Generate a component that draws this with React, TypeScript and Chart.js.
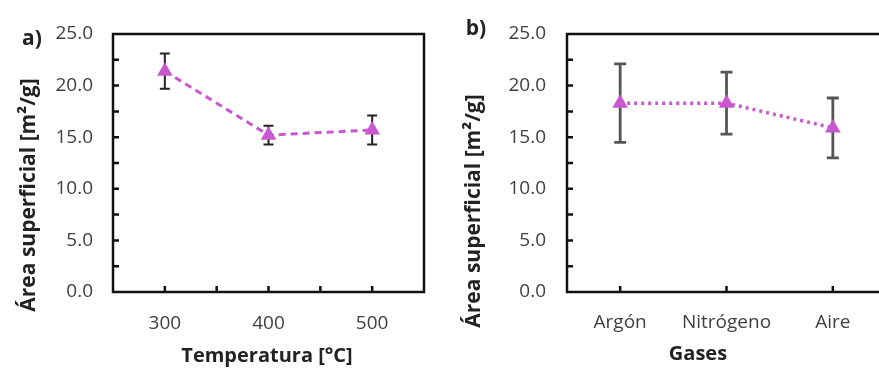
import React, { useEffect, useRef } from "react";
import { Chart, registerables } from "chart.js";

Chart.register(...registerables);

// Panel a data
const tempValues = [300, 400, 500];
const tempArea = [21.4, 15.2, 15.7];
const tempErr = [1.7, 0.9, 1.4];
const tempTickLabels = [300, 400, 500];

// Panel b data
const gasLabels = ["Argón", "Nitrógeno", "Aire"];
const gasArea = [18.3, 18.3, 15.9];
const gasErr = [3.8, 3.0, 2.9];

const yTickLabels = [0, 5, 10, 15, 20, 25];

const FONT = "'Open Sans', Lato, sans-serif";
const MAGENTA = "#C957D0";

const framePlugin = {
  id: "frame",
  beforeDatasetsDraw(chart: any, _args: any, opts: any) {
    const ctx = chart.ctx;
    const meta = chart.getDatasetMeta(0);
    const y = chart.scales.y;
    const vals = chart.data.datasets[0].data as any[];
    ctx.save();
    ctx.strokeStyle = opts.barColor;
    ctx.lineWidth = opts.barWidth;
    meta.data.forEach((pt: any, i: number) => {
      const v = typeof vals[i] === "object" ? vals[i].y : vals[i];
      const e = opts.errors[i];
      const yt = y.getPixelForValue(v + e);
      const yb = y.getPixelForValue(v - e);
      ctx.beginPath();
      ctx.moveTo(pt.x, yt);
      ctx.lineTo(pt.x, yb);
      ctx.moveTo(pt.x - opts.cap, yt);
      ctx.lineTo(pt.x + opts.cap, yt);
      ctx.moveTo(pt.x - opts.cap, yb);
      ctx.lineTo(pt.x + opts.cap, yb);
      ctx.stroke();
    });
    ctx.restore();
  },
  afterDraw(chart: any, _args: any, opts: any) {
    const ctx = chart.ctx;
    const a = chart.chartArea;
    const x = chart.scales.x;
    const y = chart.scales.y;
    ctx.save();
    ctx.strokeStyle = "#111";
    ctx.lineWidth = 2.5;
    ctx.strokeRect(a.left, a.top, a.right - a.left, a.bottom - a.top);
    ctx.beginPath();
    for (let v = 2.5; v < 25; v += 2.5) {
      const py = y.getPixelForValue(v);
      ctx.moveTo(a.left, py);
      ctx.lineTo(a.left + 6, py);
    }
    opts.xTicks.forEach((t: number) => {
      const px = x.getPixelForValue(t);
      ctx.moveTo(px, a.bottom);
      ctx.lineTo(px, a.bottom - 6);
    });
    ctx.stroke();
    ctx.restore();
  },
};

function yScale(width: number, pad: number) {
  return {
    min: 0,
    max: 25,
    afterFit: (s: any) => {
      s.width = width;
    },
    afterBuildTicks: (s: any) => {
      s.ticks = yTickLabels.map((v) => ({ value: v }));
    },
    grid: { display: false, drawTicks: false },
    border: { display: false },
    ticks: {
      padding: pad,
      color: "#404040",
      font: { family: FONT, size: 19 },
      callback: (v: any) => Number(v).toFixed(1),
    },
  };
}

function PanelA() {
  const ref = useRef<HTMLCanvasElement>(null);
  useEffect(() => {
    const chart = new Chart(ref.current!, {
      type: "line",
      data: {
        datasets: [
          {
            data: tempValues.map((t, i) => ({ x: t, y: tempArea[i] })),
            borderColor: MAGENTA,
            backgroundColor: MAGENTA,
            borderWidth: 3,
            borderDash: [7, 5],
            pointStyle: "triangle",
            pointRadius: 9,
            pointBorderWidth: 0,
          },
        ],
      },
      options: {
        responsive: false,
        animation: false,
        layout: { padding: { top: 34, right: 16, left: 0, bottom: 0 } },
        plugins: {
          legend: { display: false },
          tooltip: { enabled: false },
          frame: { errors: tempErr, xTicks: [300, 350, 400, 450, 500], barColor: "#222", barWidth: 2, cap: 5 },
        } as any,
        scales: {
          x: {
            type: "linear",
            min: 250,
            max: 550,
            afterFit: (s: any) => {
              s.height = 77;
            },
            afterBuildTicks: (s: any) => {
              s.ticks = tempTickLabels.map((v) => ({ value: v }));
            },
            grid: { display: false, drawTicks: false },
            border: { display: false },
            ticks: {
              padding: 20,
              color: "#404040",
              font: { family: FONT, size: 19 },
            },
          },
          y: yScale(113, 20) as any,
        },
      },
      plugins: [framePlugin],
    });
    return () => chart.destroy();
  }, []);
  return <canvas ref={ref} width={440} height={369} style={{ position: "absolute", left: 0, top: 0 }} />;
}

function PanelB() {
  const ref = useRef<HTMLCanvasElement>(null);
  useEffect(() => {
    const chart = new Chart(ref.current!, {
      type: "line",
      data: {
        labels: gasLabels,
        datasets: [
          {
            data: gasArea,
            borderColor: MAGENTA,
            backgroundColor: MAGENTA,
            borderWidth: 3.5,
            borderDash: [3, 4],
            pointStyle: "triangle",
            pointRadius: 9,
            pointBorderWidth: 0,
          },
        ],
      },
      options: {
        responsive: false,
        animation: false,
        layout: { padding: { top: 34, right: 14, left: 0, bottom: 0 } },
        plugins: {
          legend: { display: false },
          tooltip: { enabled: false },
          frame: { errors: gasErr, xTicks: [0, 1, 2], barColor: "#555", barWidth: 2.8, cap: 6 },
        } as any,
        scales: {
          x: {
            type: "category",
            offset: true,
            afterFit: (s: any) => {
              s.height = 77;
            },
            grid: { display: false, drawTicks: false },
            border: { display: false },
            ticks: {
              padding: 19,
              color: "#404040",
              font: { family: FONT, size: 19 },
            },
          },
          y: yScale(127, 21) as any,
        },
      },
      plugins: [framePlugin],
    });
    return () => chart.destroy();
  }, []);
  return <canvas ref={ref} width={460} height={369} style={{ position: "absolute", left: 440, top: 0 }} />;
}

const textBase: React.CSSProperties = {
  position: "absolute",
  fontFamily: FONT,
  fontWeight: 700,
  color: "#222",
  whiteSpace: "nowrap",
  lineHeight: 1,
};

function Label({ x, y, text, size, rotate }: { x: number; y: number; text: React.ReactNode; size: number; rotate?: boolean }) {
  return (
    <div
      style={{
        ...textBase,
        left: x,
        top: y,
        fontSize: size,
        transform: `translate(-50%, -50%)${rotate ? " rotate(-90deg)" : ""}`,
      }}
    >
      {text}
    </div>
  );
}

export default function App() {
  return (
    <div
      style={{
        position: "fixed",
        left: 0,
        top: 0,
        width: 879,
        height: 369,
        overflow: "hidden",
        background: "#fff",
      }}
    >
      <PanelA />
      <PanelB />
      <Label x={32} y={37} text="a)" size={21} />
      <Label x={476} y={27} text="b)" size={21} />
      <Label x={27} y={195} text="Área superficial [m²/g]" size={21} rotate />
      <Label x={472} y={211} text="Área superficial [m²/g]" size={21} rotate />
      <Label x={267} y={355} text="Temperatura [°C]" size={20} />
      <Label x={698} y={353} text="Gases" size={20} />
    </div>
  );
}
